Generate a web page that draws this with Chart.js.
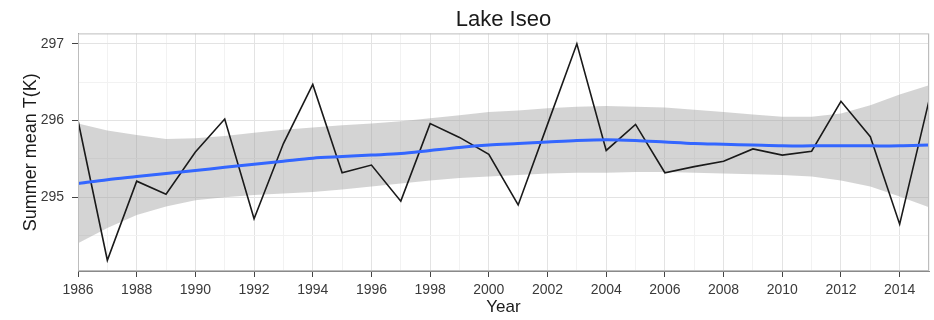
<!DOCTYPE html>
<html>
<head>
<meta charset="utf-8">
<script src="https://cdn.jsdelivr.net/npm/chart.js@4"></script>
<style>
  body { margin: 0; background: #fff; }
  #wrap { width: 934px; height: 320px; }
</style>
</head>
<body>
<div id="wrap"><canvas id="lakechart" width="934" height="320"></canvas></div>
<script>
// data
const years = [1986, 1987, 1988, 1989, 1990, 1991, 1992, 1993, 1994, 1995,
  1996, 1997, 1998, 1999, 2000, 2001, 2002, 2003, 2004, 2005,
  2006, 2007, 2008, 2009, 2010, 2011, 2012, 2013, 2014, 2015];
const summerT = [296.00, 294.18, 295.21, 295.04, 295.59, 296.02, 294.72, 295.70, 296.47, 295.32,
  295.42, 294.95, 295.96, 295.78, 295.56, 294.90, 295.95, 297.00, 295.61, 295.95,
  295.32, 295.40, 295.47, 295.63, 295.55, 295.60, 296.25, 295.79, 294.65, 296.26];
const fitMean = [295.18, 295.23, 295.27, 295.31, 295.35, 295.39, 295.43, 295.47, 295.51, 295.53,
  295.55, 295.57, 295.61, 295.65, 295.68, 295.70, 295.72, 295.74, 295.75, 295.74,
  295.72, 295.70, 295.69, 295.68, 295.67, 295.67, 295.67, 295.67, 295.67, 295.68];
const fitUpper = [295.96, 295.87, 295.81, 295.76, 295.77, 295.80, 295.84, 295.88, 295.91, 295.94,
  295.96, 295.99, 296.03, 296.07, 296.11, 296.13, 296.16, 296.18, 296.19, 296.18,
  296.17, 296.14, 296.11, 296.08, 296.05, 296.05, 296.09, 296.20, 296.34, 296.46];
const fitLower = [294.40, 294.60, 294.77, 294.88, 294.96, 295.00, 295.03, 295.05, 295.07, 295.10,
  295.14, 295.18, 295.22, 295.25, 295.27, 295.29, 295.31, 295.32, 295.32, 295.33,
  295.33, 295.32, 295.31, 295.30, 295.29, 295.27, 295.22, 295.14, 295.01, 294.87];
const yTicks = [294.5, 295, 295.5, 296, 296.5, 297];

const pts = arr => years.map((y, i) => ({ x: y, y: arr[i] }));
const fontFam = '"Liberation Sans", Arial, sans-serif';

// 绘图区边框
const panelBorder = {
  id: 'panelBorder',
  afterDatasetsDraw(chart) {
    const { ctx, chartArea: a } = chart;
    ctx.save();
    ctx.strokeStyle = '#bdbdbd';
    ctx.lineWidth = 1;
    ctx.strokeRect(a.left + 0.5, a.top + 0.5, a.right - a.left - 1, a.bottom - a.top - 1);
    ctx.restore();
  }
};

const config = {
  type: 'line',
  data: {
    datasets: [
      {
        data: pts(fitLower),
        borderWidth: 0,
        pointRadius: 0,
        fill: false,
        order: 3
      },
      {
        data: pts(fitUpper),
        borderWidth: 0,
        pointRadius: 0,
        backgroundColor: 'rgba(153,153,153,0.42)',
        fill: '-1',
        order: 2
      },
      {
        data: pts(summerT),
        borderColor: '#1a1a1a',
        borderWidth: 1.6,
        pointRadius: 0,
        fill: false,
        order: 1
      },
      {
        data: pts(fitMean),
        borderColor: '#3366ff',
        borderWidth: 3,
        pointRadius: 0,
        tension: 0.3,
        fill: false,
        order: 0
      }
    ]
  },
  options: {
    responsive: false,
    animation: false,
    layout: { padding: { left: 0, right: 2, top: 0, bottom: 0 } },
    plugins: {
      legend: { display: false },
      tooltip: { enabled: false },
      title: {
        display: true,
        fullSize: false,
        text: 'Lake Iseo',
        color: '#1a1a1a',
        font: { family: fontFam, size: 22, weight: 'normal' },
        padding: { top: 7, bottom: 0 }
      }
    },
    scales: {
      x: {
        type: 'linear',
        min: 1986,
        max: 2015,
        afterFit: s => { s.height = 49; },
        ticks: {
          stepSize: 1,
          autoSkip: false,
          maxRotation: 0,
          padding: 5,
          color: '#3a3a3a',
          font: { family: fontFam, size: 14 },
          callback: v => (v % 2 === 0 ? String(v) : '')
        },
        grid: {
          color: c => (c.tick && c.tick.value % 2 === 0 ? '#e3e3e3' : '#f2f2f2'),
          tickColor: c => (c.tick && c.tick.value % 2 === 0 ? '#444' : 'rgba(0,0,0,0)'),
          tickLength: 6
        },
        border: { color: '#8a8a8a' },
        title: {
          display: true,
          text: 'Year',
          color: '#1a1a1a',
          font: { family: fontFam, size: 17 },
          padding: { top: 0, bottom: 2 }
        }
      },
      y: {
        min: 294.04,
        max: 297.135,
        afterFit: s => { s.width = 78; },
        afterBuildTicks: s => { s.ticks = yTicks.map(v => ({ value: v })); },
        ticks: {
          padding: 8,
          color: '#3a3a3a',
          font: { family: fontFam, size: 14 },
          callback: v => (Number.isInteger(v) ? String(v) : '')
        },
        grid: {
          color: c => (c.tick && Number.isInteger(c.tick.value) ? '#e3e3e3' : '#f2f2f2'),
          tickColor: c => (c.tick && Number.isInteger(c.tick.value) ? '#444' : 'rgba(0,0,0,0)'),
          tickLength: 6
        },
        border: { color: '#8a8a8a' },
        title: {
          display: true,
          text: 'Summer mean T(K)',
          color: '#1a1a1a',
          font: { family: fontFam, size: 18 },
          padding: { top: 20, bottom: 0 }
        }
      }
    }
  },
  plugins: [panelBorder]
};

new Chart(document.getElementById('lakechart'), config);
</script>
</body>
</html>
